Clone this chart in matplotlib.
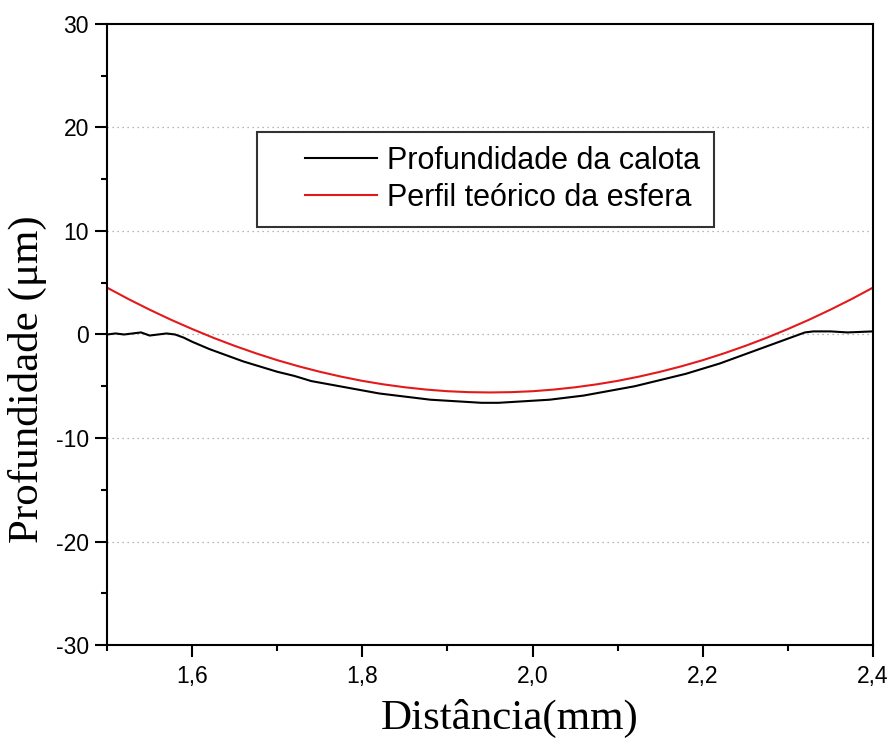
import matplotlib
matplotlib.use("Agg")
import numpy as np
import matplotlib.pyplot as plt
from matplotlib.ticker import MultipleLocator, FuncFormatter
from matplotlib.legend_handler import HandlerLine2D

# Measured profile (black)
calota_x = [1.50, 1.51, 1.52, 1.53, 1.54, 1.55, 1.56, 1.57, 1.58, 1.59,
            1.60, 1.62, 1.64, 1.66, 1.68, 1.70, 1.72, 1.74, 1.76, 1.78,
            1.80, 1.82, 1.84, 1.86, 1.88, 1.90, 1.92, 1.94, 1.96, 1.98,
            2.00, 2.02, 2.04, 2.06, 2.08, 2.10, 2.12, 2.14, 2.16, 2.18,
            2.20, 2.22, 2.24, 2.26, 2.28, 2.30, 2.32, 2.33, 2.35, 2.37, 2.40]
calota_y = [0.0, 0.1, 0.0, 0.1, 0.2, -0.1, 0.0, 0.1, 0.0, -0.3,
            -0.7, -1.4, -2.0, -2.6, -3.1, -3.6, -4.0, -4.5, -4.8, -5.1,
            -5.4, -5.7, -5.9, -6.1, -6.3, -6.4, -6.5, -6.6, -6.6, -6.5,
            -6.4, -6.3, -6.1, -5.9, -5.6, -5.3, -5.0, -4.6, -4.2, -3.8,
            -3.3, -2.8, -2.2, -1.6, -1.0, -0.4, 0.2, 0.3, 0.3, 0.2, 0.3]

# Theoretical sphere profile (red)
esfera_x = [1.500, 1.525, 1.550, 1.575, 1.600, 1.625, 1.650, 1.675, 1.700,
            1.725, 1.750, 1.775, 1.800, 1.825, 1.850, 1.875, 1.900, 1.925,
            1.950, 1.975, 2.000, 2.025, 2.050, 2.075, 2.100, 2.125, 2.150,
            2.175, 2.200, 2.225, 2.250, 2.275, 2.300, 2.325, 2.350, 2.375, 2.400]
esfera_y = [4.53, 3.43, 2.40, 1.43, 0.53, -0.32, -1.10, -1.82, -2.48,
            -3.07, -3.60, -4.07, -4.48, -4.82, -5.10, -5.32, -5.48, -5.57,
            -5.60, -5.57, -5.48, -5.32, -5.10, -4.82, -4.48, -4.07, -3.60,
            -3.07, -2.48, -1.82, -1.10, -0.32, 0.53, 1.43, 2.40, 3.43, 4.53]

x_ticks = [1.6, 1.8, 2.0, 2.2, 2.4]
y_ticks = [-30, -20, -10, 0, 10, 20, 30]
grid_y = [-20, -10, 0, 10, 20]

plt.rcParams['font.family'] = ['Liberation Sans', 'DejaVu Sans']
SERIF = ['Liberation Serif', 'DejaVu Serif']


class RightLine(HandlerLine2D):
    """Draw the legend line only on the right part of the handle box."""
    def __init__(self, frac, **kw):
        super().__init__(**kw)
        self.frac = frac

    def create_artists(self, legend, orig_handle, xdescent, ydescent, width,
                       height, fontsize, trans):
        arts = super().create_artists(legend, orig_handle, xdescent, ydescent,
                                      width, height, fontsize, trans)
        for a in arts:
            xd = np.asarray(a.get_xdata(), dtype=float)
            if len(xd) >= 2:
                x0, x1 = xd[0], xd[-1]
                a.set_xdata(np.linspace(x0 + (x1 - x0) * (1 - self.frac), x1, len(xd)))
        return arts


fig = plt.figure(figsize=(8.89, 7.38), dpi=100)
ax = fig.add_axes([0.1204, 0.126, 0.8616, 0.8415])

l1, = ax.plot(calota_x, calota_y, color='black', lw=1.5, label='Profundidade da calota')
l2, = ax.plot(esfera_x, esfera_y, color='#e31a1c', lw=1.5, label='Perfil teórico da esfera')

ax.set_xlim(1.5, 2.4)
ax.set_ylim(-30, 30)
ax.set_xticks(x_ticks)
ax.set_yticks(y_ticks)
ax.xaxis.set_minor_locator(MultipleLocator(0.1))
ax.yaxis.set_minor_locator(MultipleLocator(5))
ax.xaxis.set_major_formatter(FuncFormatter(lambda v, p: f"{v:.1f}".replace('.', ',')))
ax.yaxis.set_major_formatter(FuncFormatter(lambda v, p: f"{v:.0f}"))

ax.tick_params(which='major', direction='out', length=8.5, width=1.5, labelsize=16.5)
ax.tick_params(axis='x', which='major', pad=6)
ax.tick_params(axis='y', which='major', pad=4.5)
ax.tick_params(which='minor', direction='out', length=4.3, width=1.5)
for s in ax.spines.values():
    s.set_linewidth(1.5)

for yv in grid_y:
    ax.axhline(yv, color='#a0a0a0', lw=0.9, ls=(0, (1, 3)), zorder=0)

fig.text(510 / 889, 9 / 738, 'Distância(mm)', family=SERIF, fontsize=31,
         ha='center', va='baseline')
fig.text(27.5 / 889, 1 - 379 / 738, 'Profundidade (μm)', family=SERIF, fontsize=31,
         ha='center', va='center', rotation=90)

leg = ax.legend(loc='upper left', bbox_to_anchor=(0.1958, 0.826), borderaxespad=0,
                fontsize=22, frameon=True, fancybox=False, handlelength=3.47,
                handletextpad=0.33, borderpad=0.45, labelspacing=0.23,
                handler_map={l1: RightLine(0.68), l2: RightLine(0.68)})
leg.get_frame().set_edgecolor('black')
leg.get_frame().set_linewidth(1.5)

fig.savefig('out.png', dpi=100)
